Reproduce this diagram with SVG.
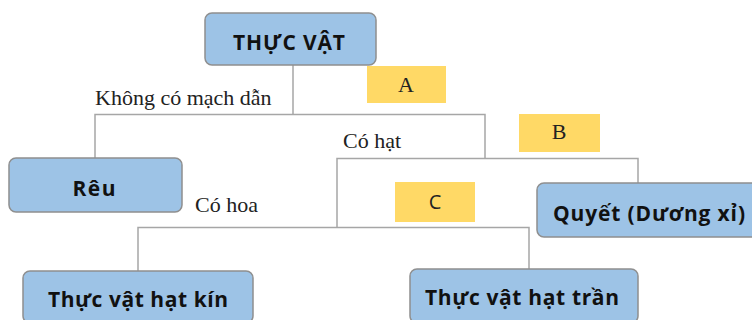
<svg xmlns="http://www.w3.org/2000/svg" width="752" height="320" viewBox="0 0 752 320">
<style>
.node rect{fill:#9dc3e6;stroke:#8f8f8f;stroke-width:1.5}
.node text{font-family:"Open Sans","Liberation Sans",sans-serif;font-weight:bold;font-size:21px;fill:#111;text-anchor:middle}
.conn{fill:none;stroke:#a6a6a6;stroke-width:1.5}
.lbl{font-family:"Liberation Serif","DejaVu Serif",serif;font-size:22px;fill:#222}
.tag rect{fill:#ffd966}
.tag text{font-family:"Liberation Serif",serif;font-size:22px;fill:#222;text-anchor:middle}
</style>
<rect width="752" height="320" fill="#fff"/>
<g id="connectors">
<path class="conn" d="M293 65V114.5M95 158V114.5H485V158.5M337 227V158.5H638V183"/>
<path class="conn" d="M138 271V227.5H529V269"/>
</g>
<g id="root" class="node"><rect x="205" y="13" width="171" height="52" rx="7"/><text x="289" y="50" textLength="112" lengthAdjust="spacing">THỰC VẬT</text></g>
<g id="reu" class="node"><rect x="9" y="158" width="173" height="54" rx="7"/><text x="94" y="196" textLength="43" lengthAdjust="spacing">Rêu</text></g>
<g id="quyet" class="node"><rect x="537" y="183" width="224" height="54" rx="7"/><text x="649" y="221" textLength="192" lengthAdjust="spacing">Quyết (Dương xỉ)</text></g>
<g id="hatkin" class="node"><rect x="23" y="271" width="230" height="52" rx="7"/><text x="138" y="307" textLength="180" lengthAdjust="spacing">Thực vật hạt kín</text></g>
<g id="hattran" class="node"><rect x="410" y="269" width="228" height="54" rx="7"/><text x="522" y="305" textLength="194" lengthAdjust="spacing">Thực vật hạt trần</text></g>
<g id="labels">
<text class="lbl" x="95" y="105">Không có mạch dẫn</text>
<text class="lbl" x="343" y="148">Có hạt</text>
<text class="lbl" x="195" y="212">Có hoa</text>
</g>
<g id="tagA" class="tag"><rect x="367" y="66" width="79" height="37"/><text x="406" y="92">A</text></g>
<g id="tagB" class="tag"><rect x="519" y="114" width="81" height="38"/><text x="559" y="139">B</text></g>
<g id="tagC" class="tag"><rect x="395" y="182" width="80" height="40"/><text x="435" y="209" style="font-family:'Open Sans','Liberation Sans',sans-serif;font-size:20px">C</text></g>
</svg>
